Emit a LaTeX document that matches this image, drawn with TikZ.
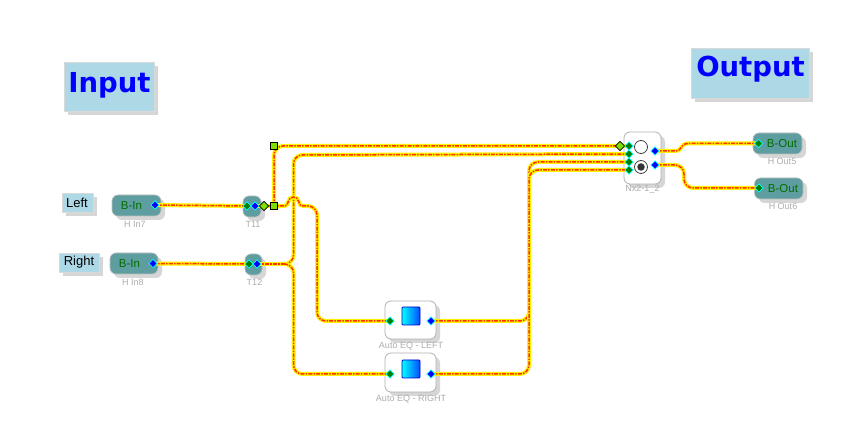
\documentclass[tikz,border=0pt]{standalone}
\usepackage{fontspec}
\setmainfont{Liberation Sans}
\newfontfamily\headfont{DejaVu Sans}
\usetikzlibrary{backgrounds,shapes.geometric}
\pgfdeclarelayer{wires}
\pgfdeclarelayer{ports}
\pgfsetlayers{main,wires,ports}
\definecolor{paleblue}{HTML}{ADD8E6}
\definecolor{tealbody}{HTML}{5F9EA0}
\definecolor{dropgrey}{HTML}{D6D6D6}
\definecolor{portgreen}{HTML}{008000}
\definecolor{portblue}{HTML}{0000FF}
\definecolor{portcyan}{HTML}{00FFFF}
\definecolor{lime}{HTML}{7FE000}
\definecolor{wirecore}{HTML}{FF3000}
\tikzset{
  x=1pt,y=-1pt,
  wirebase/.style={line width=1.5pt,draw=wirecore,
    dash pattern=on 4pt off 1.2pt on 1.5pt off 1.2pt,
    preaction={draw=yellow,line width=4pt,solid}},
  wire/.style={wirebase,rounded corners=9pt},
  caption/.style={font=\fontsize{9}{9}\selectfont,text=black!32,inner sep=0pt},
  note/.style={font=\fontsize{13}{13}\selectfont,text=black,inner sep=0pt},
  head/.style={font=\headfont\bfseries\fontsize{27.5}{27.5}\selectfont,text=blue,inner sep=0pt},
  dropbox/.style={fill=dropgrey,draw=none},
  palebox/.style={fill=paleblue,draw=white!85!black,line width=.5pt},
  tealbox/.style={fill=tealbody,draw=black!25,line width=.6pt,rounded corners=6pt},
  whitebox/.style={fill=white,draw=black!30,line width=.8pt,rounded corners=6pt},
  innode/.style={diamond,aspect=1,minimum size=8.5pt,inner sep=0pt,fill=portgreen,draw=portcyan,line width=.7pt},
  outnode/.style={diamond,aspect=1,minimum size=8.5pt,inner sep=0pt,fill=portblue,draw=portcyan,line width=.7pt},
  limediamond/.style={diamond,aspect=1,minimum size=9.5pt,inner sep=0pt,fill=lime,draw=black,line width=.7pt},
  limesquare/.style={rectangle,minimum size=7pt,inner sep=0pt,fill=lime,draw=black,line width=.8pt},
  modelabel/.style={font=\fontsize{11.5}{11.5}\selectfont,text=portgreen!85!black,inner sep=0pt},
  eqface/.style={rectangle,draw=blue!80!black,line width=.9pt,rounded corners=1pt,minimum size=18pt,inner sep=0pt,
    path picture={\shade[left color=cyan,right color=blue!70!cyan] (path picture bounding box.south west) rectangle (path picture bounding box.north east);}},
  radio/.style={circle,draw=black!75,fill=white,line width=.8pt,minimum size=13pt,inner sep=0pt},
}
% rectangular body with a soft-grey drop shadow
\newcommand{\shadowbox}[7]{%
  \fill[dropbox,rounded corners=#6] (#2+4,#3+4) rectangle (#4+4,#5+4);
  \path[#7] (#2,#3) rectangle (#4,#5);
  \node[inner sep=0pt,minimum size=0pt] (#1) at ({(#2+#4)/2},{(#3+#5)/2}) {};
}
\begin{document}
\begin{tikzpicture}
\useasboundingbox (0,0) rectangle (857,427);
\fill[white] (0,0) rectangle (857,427);

% headings and channel notes
\shadowbox{inputbox}{64}{62}{154}{111}{0pt}{palebox}
\node[head] (inputtext) at (109.5,85.5) {Input};
\shadowbox{outputbox}{691}{48}{809}{98}{0pt}{palebox}
\node[head] (outputtext) at (750.5,69.5) {Output};
\shadowbox{leftbox}{62}{193}{93}{212}{0pt}{palebox}
\node[note] (lefttext) at (77,202.5) {Left};
\shadowbox{rightbox}{59}{253}{99}{272}{0pt}{palebox}
\node[note] (righttext) at (79,262.5) {Right};

% module bodies
\shadowbox{hin7}{112}{195}{161}{216}{6pt}{tealbox}
\shadowbox{hin8}{110}{253}{158}{274}{6pt}{tealbox}
\shadowbox{t11}{243}{196}{261}{217}{6pt}{tealbox}
\shadowbox{t12}{245}{254}{262}{275}{6pt}{tealbox}
\shadowbox{hout5}{753}{133}{802}{154}{6pt}{tealbox}
\shadowbox{hout6}{754.5}{178}{803}{199}{6pt}{tealbox}
\shadowbox{mux}{624}{132}{661}{184}{6pt}{whitebox}
\shadowbox{eql}{385}{301}{436}{339}{6pt}{whitebox}
\shadowbox{eqr}{385}{353}{436}{392}{6pt}{whitebox}

% module texts
\node[modelabel] (bin7) at (131.5,206) {B-In};
\node[modelabel] (bin8) at (129.5,264) {B-In};
\node[modelabel] (bout5) at (782,144) {B-Out};
\node[modelabel] (bout6) at (783,189) {B-Out};
\node[caption] (c1) at (135,224) {H In7};
\node[caption] (c2) at (133,282) {H In8};
\node[caption] (c3) at (253,224) {T11};
\node[caption] (c4) at (254.5,282) {T12};
\node[caption] (c5) at (782,161) {H Out5};
\node[caption] (c6) at (783,206) {H Out6};
\node[caption] (c7) at (642.5,189) {Nx2-1\_2};
\node[caption] (c8) at (411,346) {Auto EQ - LEFT};
\node[caption] (c9) at (411,399) {Auto EQ - RIGHT};

% EQ faces
\node[eqface] (eqlface) at (411,316) {};
\node[eqface] (eqrface) at (411,369) {};

% selector radio buttons
\node[radio] (radioa) at (641,147) {};
\node[radio] (radiob) at (641,167) {};
\node[circle,fill=black!80,minimum size=7.5pt,inner sep=0pt] (radiodot) at (641,167) {};

\begin{pgfonlayer}{ports}
  \node[outnode] (pa) at (155,205) {};
  \node[outnode] (pb) at (153,263.5) {};
  \node[innode] (t11i) at (247,206) {};
  \node[outnode] (t11o) at (255,206) {};
  \node[innode] (t12i) at (249,264) {};
  \node[outnode] (t12o) at (257,264) {};
  \node[limediamond] (gate) at (264,206) {};
  \node[limesquare] (sqlow) at (274,206) {};
  \node[limesquare] (sqhigh) at (274,146) {};
  \node[limediamond] (muxgate) at (620,146) {};
  \node[innode] (m1) at (629,146) {};
  \node[innode] (m2) at (629,154) {};
  \node[innode] (m3) at (629,162) {};
  \node[innode] (m4) at (629,170) {};
  \node[outnode] (mo1) at (655,151) {};
  \node[outnode] (mo2) at (655,165) {};
  \node[innode] (eqli) at (390,321) {};
  \node[outnode] (eqlo) at (431,321) {};
  \node[innode] (eqri) at (390,374) {};
  \node[outnode] (eqro) at (431,374) {};
  \node[innode] (h5) at (758.5,143.5) {};
  \node[innode] (h6) at (759,188) {};
\end{pgfonlayer}

\begin{pgfonlayer}{wires}
  \coordinate (split) at (284,264);
  \coordinate (hopin) at (285,206);
  \coordinate (hopout) at (302,206);
  % inputs into the T splitters
  \draw[wirebase] (pa.center) -- (t11i.center);
  \draw[wirebase] (pb.center) -- (t12i.center);
  \draw[wirebase] (t11o.center) -- (gate.center);
  % upper branch to the selector
  \draw[wire] (sqlow.center) -- (sqhigh.center) -- (muxgate.center);
  \draw[wirebase] (muxgate.center) -- (m1.center);
  % right channel fan-out
  \draw[wirebase] (t12o.center) -- (split);
  \draw[wire] (split) -- (293.5,264) -- (293.5,155) -- (m2.center);
  \draw[wire] (split) -- (293.5,264) -- (293.5,374) -- (eqri.center);
  % second branch hops over the vertical run
  \draw[wirebase] (gate.center) -- (hopin)
     .. controls (289,206) and (287,197) .. (293.5,197)
     .. controls (300,197) and (298,206) .. (hopout);
  \draw[wire] (hopout) -- (317,206) -- (317,321) -- (eqli.center);
  % EQ outputs up the shared bus
  \draw[wire] (eqlo.center) -- (529,321) -- (529,162) -- (m3.center);
  \draw[wire] (eqro.center) -- (529,374) -- (529,170) -- (m4.center);
  % selector outputs
  \draw[wirebase] (mo1.center) -- (676,151)
     .. controls (682,151) and (680,143.5) .. (688,143.5) -- (h5.center);
  \draw[wire] (mo2.center) -- (684,165) -- (684,188) -- (h6.center);
\end{pgfonlayer}
\end{tikzpicture}
\end{document}
